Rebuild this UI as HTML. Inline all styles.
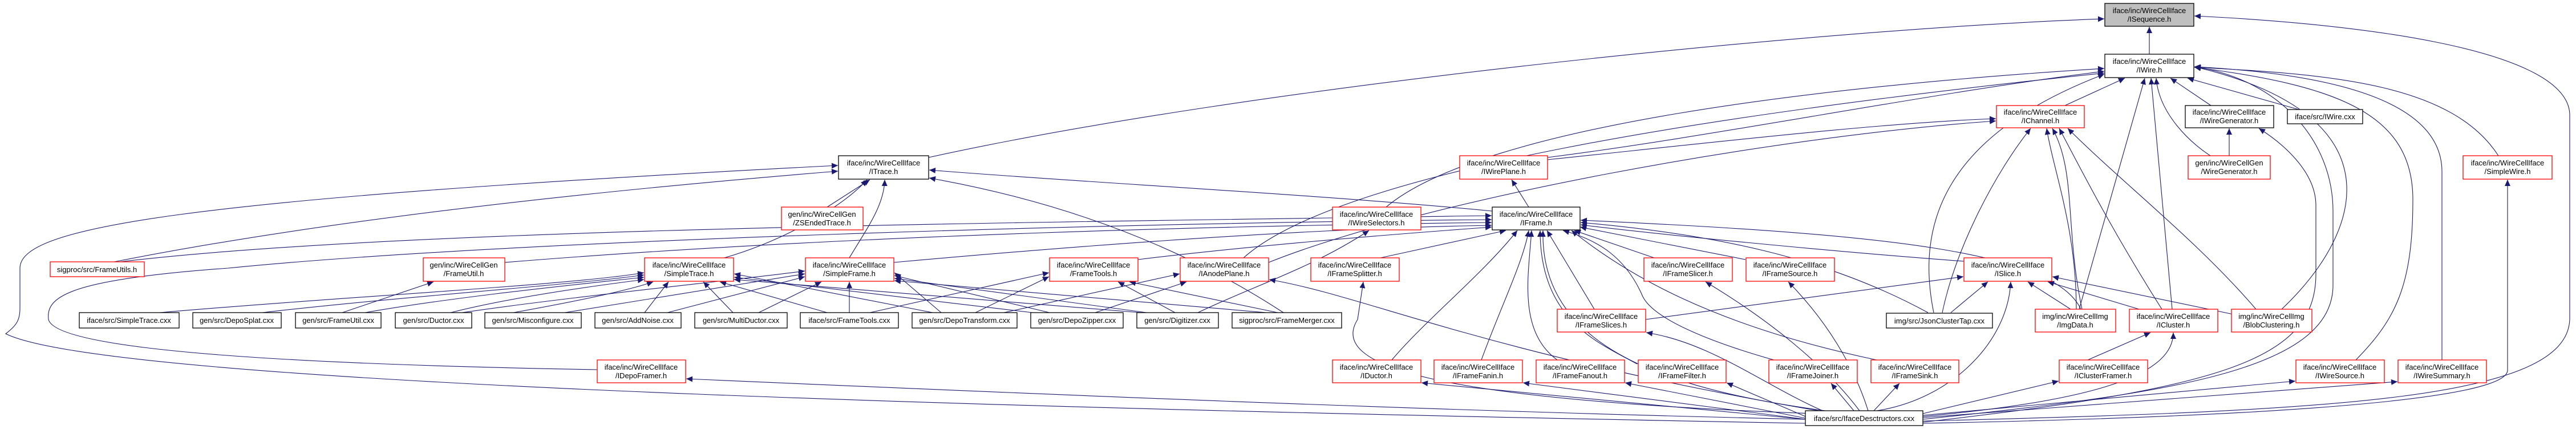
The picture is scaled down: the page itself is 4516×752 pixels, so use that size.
<!DOCTYPE html>
<html><head><meta charset="utf-8"><style>
html,body{margin:0;padding:0;background:#fff;}
svg{display:block;}
text{font-family:"Liberation Sans",sans-serif;font-size:13px;fill:#000;text-anchor:middle;}
.r{fill:#fff;stroke:#ff0000;stroke-width:1.3;}
.k{fill:#fff;stroke:#000;stroke-width:1.3;}
.g{fill:#bfbfbf;stroke:#000;stroke-width:1.3;}
.e path{fill:none;stroke:#191970;stroke-width:1.1;marker-end:url(#a);}
</style></head><body>
<svg width="4516" height="752" viewBox="0 0 4516 752" xmlns="http://www.w3.org/2000/svg">
<defs><marker id="a" markerUnits="userSpaceOnUse" markerWidth="12" markerHeight="10" refX="11" refY="5" orient="auto"><path d="M0,0 L11,5 L0,10 Z" fill="#191970"/></marker></defs>
<g class="e">
<path d="M3768 95 L3768 47"/>
<path d="M1628 276 C2200 150,3200 50,3689 33"/>
<path d="M3371 738 C4100 720,4500 700,4505 560 L4505 200 C4500 80,4100 40,3847 28"/>
<path d="M3620 185 L3725 137"/>
<path d="M3876 185 L3805 137"/>
<path d="M4030 192 L3835 137"/>
<path d="M3875 273 C3840 250,3785 200,3780 137"/>
<path d="M4380 273 C4300 150,4100 130,3847 118"/>
<path d="M2430 363 C2600 220,3200 150,3689 120"/>
<path d="M2713 276 C3000 240,3400 160,3689 125"/>
<path d="M2180 452 C2350 300,3000 200,3689 128"/>
<path d="M3390 548 C3360 400,3400 240,3689 130"/>
<path d="M3645 542 L3760 137"/>
<path d="M3808 542 L3771 137"/>
<path d="M4000 542 C4150 400,4200 200,3847 117"/>
<path d="M4130 631 C4200 560,4230 500,4230 350 C4230 200,4100 150,3847 118"/>
<path d="M4281 631 L4281 300 C4280 180,4100 130,3847 117"/>
<path d="M3371 735 C3800 690,4090 650,4090 500 L4090 370 C4090 250,4000 140,3847 117"/>
<path d="M2713 280 C3000 250,3300 215,3499 208"/>
<path d="M2224 460 C2500 350,3100 240,3499 212"/>
<path d="M3405 548 C3430 430,3500 300,3560 225"/>
<path d="M3640 542 C3640 400,3600 300,3588 225"/>
<path d="M3650 542 C3620 400,3640 300,3598 225"/>
<path d="M3790 542 C3700 400,3650 300,3610 225"/>
<path d="M3955 542 C3850 420,3720 320,3625 225"/>
<path d="M3908 273 L3908 225"/>
<path d="M3371 740 C3900 680,4060 630,4060 480 L4060 360 C4060 300,4000 250,3960 225"/>
<path d="M3371 742 C4000 730,4390 700,4396 650 L4396 315"/>
<path d="M1270 452 C1380 420,1480 360,1520 315"/>
<path d="M1489 452 C1520 400,1550 360,1551 315"/>
<path d="M200 459 C600 380,1100 330,1469 300"/>
<path d="M1450 363 L1525 315"/>
<path d="M2616 370 C2300 340,1900 320,1629 298"/>
<path d="M2250 548 C2100 450,1900 360,1629 312"/>
<path d="M3165 742 C2000 720,200 680,10 585 C30 570,35 560,35 540 L35 470 C35 400,300 350,1469 290"/>
<path d="M1047 648 C600 640,100 620,85 560 C80 520,120 490,400 470 C900 420,2000 390,2615 385"/>
<path d="M2680 363 L2650 315"/>
<path d="M2100 548 C2200 500,2300 470,2400 404"/>
<path d="M210 459 C700 400,1800 390,2615 378"/>
<path d="M885 460 C1500 410,2200 395,2615 390"/>
<path d="M1567 460 C1900 430,2300 400,2615 395"/>
<path d="M1995 455 C2200 430,2450 410,2615 398"/>
<path d="M2420 452 L2640 404"/>
<path d="M2440 631 C2500 560,2600 480,2660 404"/>
<path d="M2597 631 C2630 540,2670 460,2680 404"/>
<path d="M2730 631 C2660 580,2680 480,2685 404"/>
<path d="M2870 638 C2800 600,2700 560,2700 404"/>
<path d="M2795 542 L2712 404"/>
<path d="M2900 452 L2760 404"/>
<path d="M3060 455 L2770 398"/>
<path d="M3443 458 C3200 440,2900 410,2771 394"/>
<path d="M3110 631 C3000 600,2900 560,2880 520 C2850 450,2800 420,2740 404"/>
<path d="M3290 631 C3000 570,2850 480,2755 404"/>
<path d="M3380 548 C3200 450,3000 410,2771 390"/>
<path d="M3648 542 C3600 440,3300 410,2771 386"/>
<path d="M3200 720 C2900 680,2700 600,2705 404"/>
<path d="M280 548 C600 520,1000 500,1129 478"/>
<path d="M460 548 C700 520,1000 500,1129 482"/>
<path d="M640 548 C800 520,1000 500,1129 486"/>
<path d="M790 548 C900 520,1050 500,1129 490"/>
<path d="M900 548 C1000 530,1100 510,1145 494"/>
<path d="M1130 548 L1172 494"/>
<path d="M1285 548 L1233 494"/>
<path d="M1450 548 L1262 494"/>
<path d="M1635 548 L1287 480"/>
<path d="M1810 548 L1287 486"/>
<path d="M2000 548 L1287 490"/>
<path d="M810 548 C1000 520,1300 490,1411 475"/>
<path d="M990 548 L1411 480"/>
<path d="M1170 548 L1411 485"/>
<path d="M1330 548 L1440 494"/>
<path d="M1489 548 L1489 494"/>
<path d="M1650 548 L1568 478"/>
<path d="M1840 548 L1568 483"/>
<path d="M2010 548 L1568 488"/>
<path d="M2220 548 L1568 492"/>
<path d="M1525 548 L1839 478"/>
<path d="M1710 548 L1839 485"/>
<path d="M2060 548 L1960 494"/>
<path d="M2240 548 L1980 494"/>
<path d="M1760 548 L2068 480"/>
<path d="M1920 548 L2080 494"/>
<path d="M3200 722 C2600 620,2400 520,2225 490"/>
<path d="M600 548 L760 494"/>
<path d="M3180 725 C2500 700,2330 640,2380 560 L2390 494"/>
<path d="M3260 720 C3200 640,3100 560,2990 494"/>
<path d="M3275 720 C3250 640,3200 560,3135 494"/>
<path d="M2885 560 L3442 485"/>
<path d="M3420 548 L3485 494"/>
<path d="M3630 542 L3555 494"/>
<path d="M3750 542 L3590 494"/>
<path d="M3920 552 L3598 485"/>
<path d="M3290 720 C3420 700,3520 600,3525 494"/>
<path d="M3200 722 C3100 680,3000 600,2886 583"/>
<path d="M3660 631 L3770 583"/>
<path d="M3371 730 C3700 700,3810 650,3810 583"/>
<path d="M3165 735 C2500 720,1800 690,1203 664"/>
<path d="M3165 735 L2492 671"/>
<path d="M3165 735 L2670 671"/>
<path d="M3165 733 L2849 671"/>
<path d="M3165 730 L3027 671"/>
<path d="M3250 720 L3210 672"/>
<path d="M3285 720 L3330 672"/>
<path d="M3371 725 L3609 668"/>
<path d="M3371 728 L4024 668"/>
<path d="M3371 732 L4203 669"/>
</g>
<g>
<rect class="g" x="3690" y="6" width="156" height="40"/><text x="3768" y="23">iface/inc/WireCellIface</text><text x="3768" y="38">/ISequence.h</text>
<rect class="k" x="3690" y="95" width="156" height="41"/><text x="3768" y="112">iface/inc/WireCellIface</text><text x="3768" y="127">/IWire.h</text>
<rect class="r" x="3500" y="185" width="154" height="39"/><text x="3577" y="201">iface/inc/WireCellIface</text><text x="3577" y="216">/IChannel.h</text>
<rect class="k" x="3831" y="185" width="155" height="39"/><text x="3908" y="201">iface/inc/WireCellIface</text><text x="3908" y="216">/IWireGenerator.h</text>
<rect class="k" x="4010" y="192" width="132" height="25"/><text x="4076" y="209">iface/src/IWire.cxx</text>
<rect class="k" x="1470" y="273" width="158" height="41"/><text x="1549" y="290">iface/inc/WireCellIface</text><text x="1549" y="305">/ITrace.h</text>
<rect class="r" x="2559" y="273" width="154" height="41"/><text x="2636" y="290">iface/inc/WireCellIface</text><text x="2636" y="305">/IWirePlane.h</text>
<rect class="r" x="3836" y="273" width="144" height="41"/><text x="3908" y="290">gen/inc/WireCellGen</text><text x="3908" y="305">/WireGenerator.h</text>
<rect class="r" x="4318" y="273" width="156" height="41"/><text x="4396" y="290">iface/inc/WireCellIface</text><text x="4396" y="305">/SimpleWire.h</text>
<rect class="r" x="1370" y="363" width="143" height="40"/><text x="1441" y="380">gen/inc/WireCellGen</text><text x="1441" y="395">/ZSEndedTrace.h</text>
<rect class="r" x="2336" y="363" width="155" height="40"/><text x="2413" y="380">iface/inc/WireCellIface</text><text x="2413" y="395">/IWireSelectors.h</text>
<rect class="k" x="2616" y="363" width="154" height="40"/><text x="2693" y="380">iface/inc/WireCellIface</text><text x="2693" y="395">/IFrame.h</text>
<rect class="r" x="88" y="459" width="165" height="26"/><text x="170" y="477">sigproc/src/FrameUtils.h</text>
<rect class="r" x="742" y="452" width="143" height="41"/><text x="813" y="469">gen/inc/WireCellGen</text><text x="813" y="484">/FrameUtil.h</text>
<rect class="r" x="1130" y="452" width="156" height="41"/><text x="1208" y="469">iface/inc/WireCellIface</text><text x="1208" y="484">/SimpleTrace.h</text>
<rect class="r" x="1412" y="452" width="155" height="41"/><text x="1489" y="469">iface/inc/WireCellIface</text><text x="1489" y="484">/SimpleFrame.h</text>
<rect class="r" x="1840" y="452" width="155" height="41"/><text x="1917" y="469">iface/inc/WireCellIface</text><text x="1917" y="484">/FrameTools.h</text>
<rect class="r" x="2069" y="452" width="155" height="41"/><text x="2146" y="469">iface/inc/WireCellIface</text><text x="2146" y="484">/IAnodePlane.h</text>
<rect class="r" x="2298" y="452" width="155" height="41"/><text x="2375" y="469">iface/inc/WireCellIface</text><text x="2375" y="484">/IFrameSplitter.h</text>
<rect class="r" x="2882" y="452" width="155" height="41"/><text x="2959" y="469">iface/inc/WireCellIface</text><text x="2959" y="484">/IFrameSlicer.h</text>
<rect class="r" x="3061" y="452" width="155" height="41"/><text x="3138" y="469">iface/inc/WireCellIface</text><text x="3138" y="484">/IFrameSource.h</text>
<rect class="r" x="3443" y="452" width="154" height="41"/><text x="3520" y="469">iface/inc/WireCellIface</text><text x="3520" y="484">/ISlice.h</text>
<rect class="k" x="139" y="548" width="175" height="27"/><text x="226" y="566">iface/src/SimpleTrace.cxx</text>
<rect class="k" x="338" y="548" width="155" height="27"/><text x="415" y="566">gen/src/DepoSplat.cxx</text>
<rect class="k" x="518" y="548" width="150" height="27"/><text x="593" y="566">gen/src/FrameUtil.cxx</text>
<rect class="k" x="693" y="548" width="134" height="27"/><text x="760" y="566">gen/src/Ductor.cxx</text>
<rect class="k" x="850" y="548" width="169" height="27"/><text x="934" y="566">gen/src/Misconfigure.cxx</text>
<rect class="k" x="1043" y="548" width="151" height="27"/><text x="1118" y="566">gen/src/AddNoise.cxx</text>
<rect class="k" x="1218" y="548" width="162" height="27"/><text x="1299" y="566">gen/src/MultiDuctor.cxx</text>
<rect class="k" x="1403" y="548" width="172" height="27"/><text x="1489" y="566">iface/src/FrameTools.cxx</text>
<rect class="k" x="1599" y="548" width="184" height="27"/><text x="1691" y="566">gen/src/DepoTransform.cxx</text>
<rect class="k" x="1807" y="548" width="162" height="27"/><text x="1888" y="566">gen/src/DepoZipper.cxx</text>
<rect class="k" x="1993" y="548" width="143" height="27"/><text x="2064" y="566">gen/src/Digitizer.cxx</text>
<rect class="k" x="2160" y="548" width="192" height="27"/><text x="2256" y="566">sigproc/src/FrameMerger.cxx</text>
<rect class="k" x="3307" y="549" width="186" height="26"/><text x="3400" y="567">img/src/JsonClusterTap.cxx</text>
<rect class="r" x="2730" y="542" width="155" height="40"/><text x="2807" y="559">iface/inc/WireCellIface</text><text x="2807" y="574">/IFrameSlices.h</text>
<rect class="r" x="3568" y="542" width="141" height="40"/><text x="3638" y="559">img/inc/WireCellImg</text><text x="3638" y="574">/ImgData.h</text>
<rect class="r" x="3733" y="542" width="155" height="40"/><text x="3810" y="559">iface/inc/WireCellIface</text><text x="3810" y="574">/ICluster.h</text>
<rect class="r" x="3912" y="542" width="141" height="40"/><text x="3982" y="559">img/inc/WireCellImg</text><text x="3982" y="574">/BlobClustering.h</text>
<rect class="r" x="1047" y="631" width="155" height="40"/><text x="1124" y="648">iface/inc/WireCellIface</text><text x="1124" y="663">/IDepoFramer.h</text>
<rect class="r" x="2336" y="631" width="155" height="40"/><text x="2413" y="648">iface/inc/WireCellIface</text><text x="2413" y="663">/IDuctor.h</text>
<rect class="r" x="2514" y="631" width="155" height="40"/><text x="2591" y="648">iface/inc/WireCellIface</text><text x="2591" y="663">/IFrameFanin.h</text>
<rect class="r" x="2693" y="631" width="155" height="40"/><text x="2770" y="648">iface/inc/WireCellIface</text><text x="2770" y="663">/IFrameFanout.h</text>
<rect class="r" x="2872" y="631" width="154" height="40"/><text x="2949" y="648">iface/inc/WireCellIface</text><text x="2949" y="663">/IFrameFilter.h</text>
<rect class="r" x="3101" y="631" width="155" height="40"/><text x="3178" y="648">iface/inc/WireCellIface</text><text x="3178" y="663">/IFrameJoiner.h</text>
<rect class="r" x="3280" y="631" width="154" height="40"/><text x="3357" y="648">iface/inc/WireCellIface</text><text x="3357" y="663">/IFrameSink.h</text>
<rect class="r" x="3610" y="631" width="155" height="40"/><text x="3687" y="648">iface/inc/WireCellIface</text><text x="3687" y="663">/IClusterFramer.h</text>
<rect class="r" x="4025" y="631" width="155" height="40"/><text x="4102" y="648">iface/inc/WireCellIface</text><text x="4102" y="663">/IWireSource.h</text>
<rect class="r" x="4204" y="631" width="155" height="40"/><text x="4281" y="648">iface/inc/WireCellIface</text><text x="4281" y="663">/IWireSummary.h</text>
<rect class="k" x="3165" y="720" width="206" height="26"/><text x="3268" y="738">iface/src/IfaceDesctructors.cxx</text>
</g>
</svg>
</body></html>
